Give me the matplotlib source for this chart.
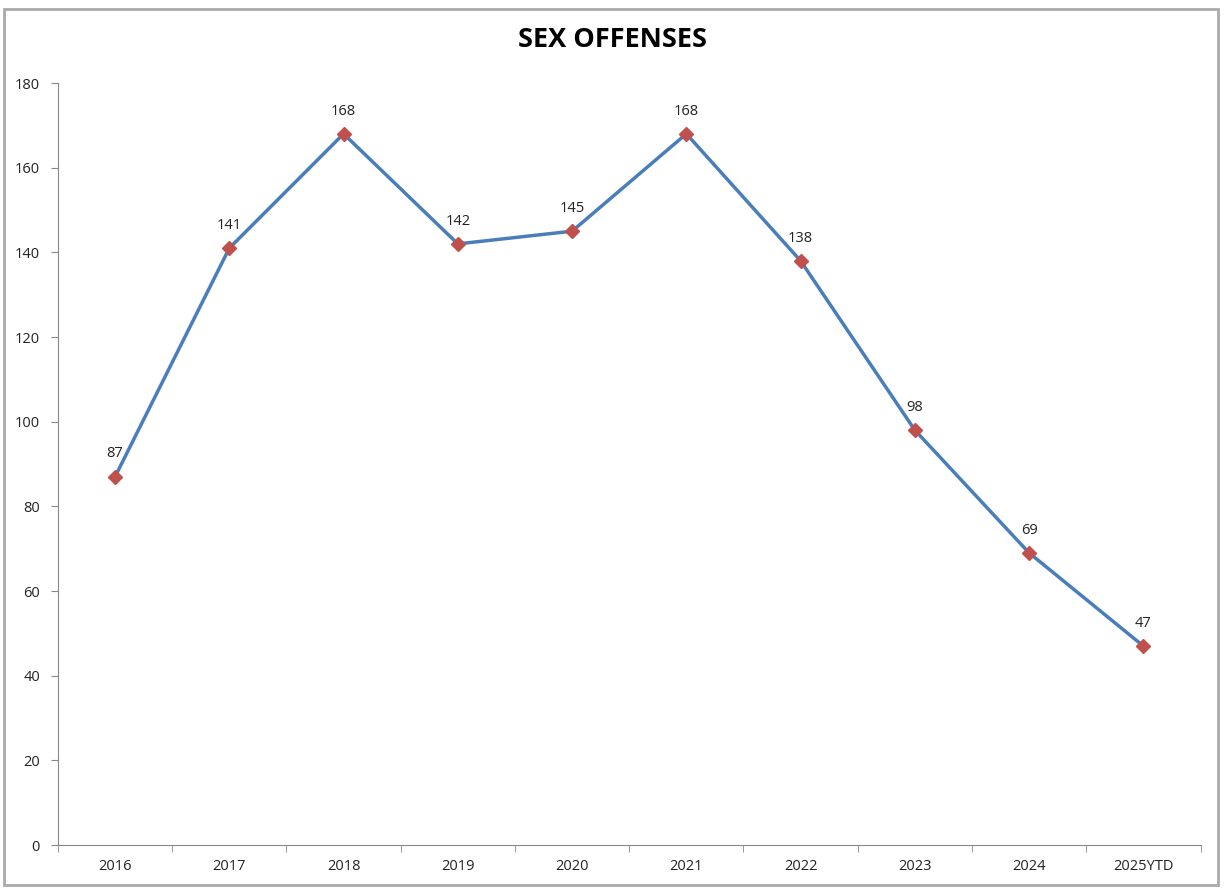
import matplotlib.pyplot as plt
from matplotlib.patches import Rectangle

# Data
years = ["2016", "2017", "2018", "2019", "2020", "2021", "2022", "2023", "2024", "2025YTD"]
counts = [87, 141, 168, 142, 145, 168, 138, 98, 69, 47]

plt.rcParams["font.family"] = ["Open Sans", "DejaVu Sans"]

fig = plt.figure(figsize=(12.25, 8.88), dpi=100)
ax = fig.add_axes([0.0473, 0.0484, 0.9327, 0.8581])

x = list(range(len(years)))
ax.plot(x, counts, color="#4a7ebb", linewidth=2.5, zorder=2)
ax.plot(x, counts, linestyle="none", marker="D", markersize=7,
        color="#c0504d", zorder=3)

for xi, v in zip(x, counts):
    ax.annotate(str(v), (xi, v), xytext=(0, 11), textcoords="offset points",
                ha="center", va="bottom", fontsize=10.5, color="#222222")

ax.set_xlim(-0.5, len(years) - 0.5)
ax.set_ylim(0, 180)
ax.set_yticks(range(0, 181, 20))
ax.set_xticks(x)
ax.set_xticklabels(years)
ax.set_xticks([i - 0.5 for i in range(len(years) + 1)], minor=True)
ax.tick_params(axis="x", which="major", length=0, pad=10, labelsize=10.5,
               labelcolor="#222222")
ax.tick_params(axis="x", which="minor", length=5, color="#888888", direction="out")
ax.tick_params(axis="y", length=5, color="#888888", labelsize=10.5, pad=8,
               labelcolor="#222222")

for side in ["top", "right"]:
    ax.spines[side].set_visible(False)
for side in ["left", "bottom"]:
    ax.spines[side].set_color("#888888")

fig.text(0.5, 0.955, "SEX OFFENSES", ha="center", va="center",
         fontsize=19.5, fontweight="bold")

# chart border
fig.patches.append(Rectangle((0.003, 0.003), 0.991, 0.987, transform=fig.transFigure,
                             fill=False, edgecolor="#aaaaaa", linewidth=2))

plt.savefig("out.png", dpi=100)
